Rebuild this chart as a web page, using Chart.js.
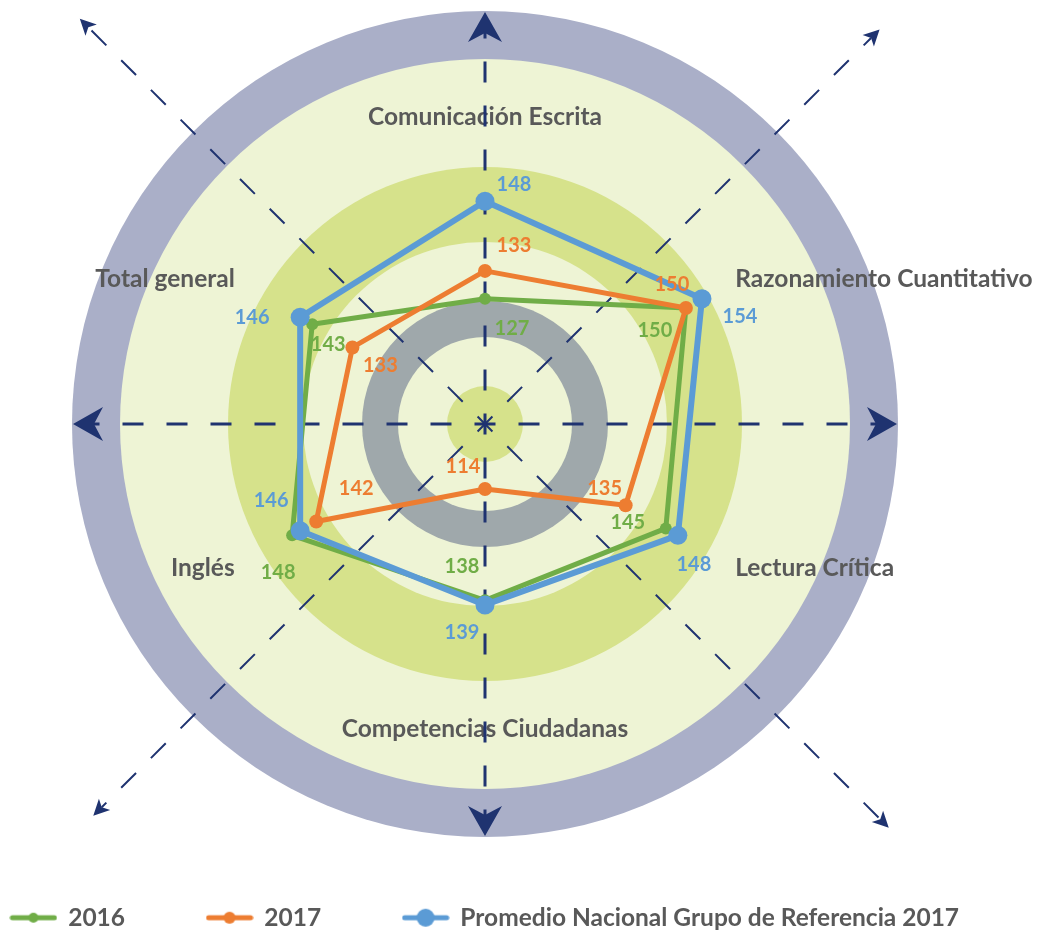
<!DOCTYPE html>
<html>
<head>
<meta charset="utf-8">
<script src="https://cdn.jsdelivr.net/npm/chart.js@4/dist/chart.umd.min.js"></script>
<style>
  html, body { margin: 0; padding: 0; background: #fff; overflow: hidden; }
  #wrap { width: 1120px; height: 940px; margin-left: -75px; }
</style>
</head>
<body>
<div id="wrap"><canvas id="chart" width="1120" height="940"></canvas></div>
<script>
// data
const categories = ['Comunicación Escrita', 'Razonamiento Cuantitativo', 'Lectura Crítica',
                    'Competencias Ciudadanas', 'Inglés', 'Total general'];
const seriesNames = ['2016', '2017', 'Promedio Nacional Grupo de Referencia 2017'];
const values2016 = [127, 150, 145, 138, 148, 143];
const values2017 = [133, 150, 135, 114, 142, 133];
const valuesPromedio = [148, 154, 148, 139, 146, 146];
const axisMin = 100;
const axisMax = 186;

// where each value label sits, relative to its point
const labelOffsets = [
  [[27, 30], [-31, 23], [-38, -6], [-23, -34], [-14, 37], [16, 20]],
  [[29, -25], [-14, -23], [-21, -17], [-22, -22], [40, -33], [28, 18]],
  [[29, -17], [38, 18], [16, 29], [-23, 28], [-29, -30], [-48, 0]]
];

const GREEN = '#70AD47', ORANGE = '#ED7D31', BLUE = '#5B9BD5';
const NAVY = '#1F3370';
const TEXT = '#595959';
const colors = [GREEN, ORANGE, BLUE];
const dotRadius = [6, 7, 9.5];
const lineWidths = [5, 5, 6];

function disk(ctx, x, y, r, color) {
  ctx.fillStyle = color;
  ctx.beginPath();
  ctx.arc(x, y, r, 0, Math.PI * 2);
  ctx.fill();
}

function arrowHead(ctx, cx, cy, ang, tipR, len, half, notch) {
  const ux = Math.cos(ang), uy = Math.sin(ang);
  const px = -uy, py = ux;
  const tx = cx + ux * tipR, ty = cy + uy * tipR;
  const bx = cx + ux * (tipR - len), by = cy + uy * (tipR - len);
  const nx = cx + ux * (tipR - len + notch), ny = cy + uy * (tipR - len + notch);
  ctx.beginPath();
  ctx.moveTo(tx, ty);
  ctx.lineTo(bx + px * half, by + py * half);
  ctx.lineTo(nx, ny);
  ctx.lineTo(bx - px * half, by - py * half);
  ctx.closePath();
  ctx.fill();
}

function dashedRay(ctx, cx, cy, ang, r, dash, width) {
  ctx.lineWidth = width;
  ctx.setLineDash(dash);
  ctx.lineDashOffset = dash[0] / 2;
  ctx.beginPath();
  ctx.moveTo(cx, cy);
  ctx.lineTo(cx + Math.cos(ang) * r, cy + Math.sin(ang) * r);
  ctx.stroke();
}

const backdrop = {
  id: 'backdrop',
  beforeDatasetsDraw(chart) {
    const s = chart.scales.r;
    const ctx = chart.ctx;
    const cx = s.xCenter, cy = s.yCenter;
    ctx.save();
    disk(ctx, cx, cy, 413, '#AAAFC8');
    disk(ctx, cx, cy, 365, '#EEF4D5');
    disk(ctx, cx, cy, 257, '#D6E28B');
    disk(ctx, cx, cy, 182, '#EEF4D5');
    disk(ctx, cx, cy, 123, '#9FA8AB');
    disk(ctx, cx, cy, 87, '#EEF4D5');
    disk(ctx, cx, cy, 38, '#D6E28B');

    // category names
    ctx.font = 'bold 24.5px Lato';
    ctx.fillStyle = TEXT;
    ctx.textBaseline = 'middle';
    categories.forEach((name, i) => {
      const p0 = s.getPointPosition(i, 100);
      const c = (p0.x - cx) / 100;
      const vertical = Math.abs(c) < 0.1;
      const dist = vertical ? (p0.y < cy ? 307 : 305) : 289;
      const p = s.getPointPosition(i, dist);
      ctx.textAlign = vertical ? 'center' : (c > 0 ? 'left' : 'right');
      ctx.fillText(name, p.x, p.y);
    });

    // dashed axes with arrows
    ctx.strokeStyle = NAVY;
    ctx.fillStyle = NAVY;
    [0, 90, 180, 270].forEach(d => {
      const a = d * Math.PI / 180;
      dashedRay(ctx, cx, cy, a, 412 - 20, [21, 23], 3);
      ctx.setLineDash([]);
      arrowHead(ctx, cx, cy, a, 412, 30, 17, 9);
    });
    const diag = [[-135, 573], [-45, 558], [45, 571], [135, 554]];
    diag.forEach(([d, r]) => {
      const a = d * Math.PI / 180;
      dashedRay(ctx, cx, cy, a, r - 12, [21, 21], 2);
      ctx.setLineDash([]);
      arrowHead(ctx, cx, cy, a, r, 16, 8, 4);
    });
    ctx.restore();
  }
};

const valueLabels = {
  id: 'valueLabels',
  afterDatasetsDraw(chart) {
    const ctx = chart.ctx;
    ctx.save();
    ctx.font = 'bold 20px Lato';
    ctx.textAlign = 'center';
    ctx.textBaseline = 'middle';
    chart.data.datasets.forEach((ds, i) => {
      const meta = chart.getDatasetMeta(i);
      ctx.fillStyle = colors[i];
      meta.data.forEach((pt, j) => {
        const off = labelOffsets[i][j];
        ctx.fillText(String(ds.data[j]), pt.x + off[0], pt.y + off[1]);
      });
    });
    ctx.restore();
  }
};

function legendMarker(color, r) {
  const c = document.createElement('canvas');
  c.width = 48;
  c.height = 24;
  const g = c.getContext('2d');
  g.strokeStyle = color;
  g.lineWidth = 5;
  g.lineCap = 'round';
  g.beginPath();
  g.moveTo(3, 12);
  g.lineTo(45, 12);
  g.stroke();
  g.fillStyle = color;
  g.beginPath();
  g.arc(24, 12, r, 0, Math.PI * 2);
  g.fill();
  return c;
}
const legendDots = [5, 6, 9];

function series(i, data) {
  return {
    label: seriesNames[i],
    data: data,
    borderColor: colors[i],
    backgroundColor: colors[i],
    borderWidth: lineWidths[i],
    borderJoinStyle: 'round',
    pointRadius: dotRadius[i],
    pointHoverRadius: dotRadius[i],
    pointBackgroundColor: colors[i],
    pointBorderWidth: 0,
    fill: false,
    order: 3 - i
  };
}

new Chart(document.getElementById('chart'), {
  type: 'radar',
  data: {
    labels: categories,
    datasets: [series(0, values2016), series(1, values2017), series(2, valuesPromedio)]
  },
  options: {
    responsive: false,
    animation: false,
    devicePixelRatio: 1,
    layout: { padding: { top: 25 } },
    elements: { line: { tension: 0 } },
    scales: {
      r: {
        min: axisMin,
        max: axisMax,
        ticks: { display: false },
        grid: { display: false },
        angleLines: { display: false },
        pointLabels: { display: false }
      }
    },
    plugins: {
      tooltip: { enabled: false },
      legend: {
        position: 'bottom',
        labels: {
          usePointStyle: true,
          pointStyleWidth: 45,
          padding: 82,
          color: TEXT,
          font: { family: 'Lato', size: 24.5, weight: 'bold' },
          sort: (a, b) => a.datasetIndex - b.datasetIndex,
          generateLabels(chart) {
            const items = Chart.defaults.plugins.legend.labels.generateLabels(chart);
            items.forEach(it => { it.pointStyle = legendMarker(colors[it.datasetIndex], legendDots[it.datasetIndex]); });
            return items;
          }
        }
      }
    }
  },
  plugins: [backdrop, valueLabels]
});
</script>
</body>
</html>
